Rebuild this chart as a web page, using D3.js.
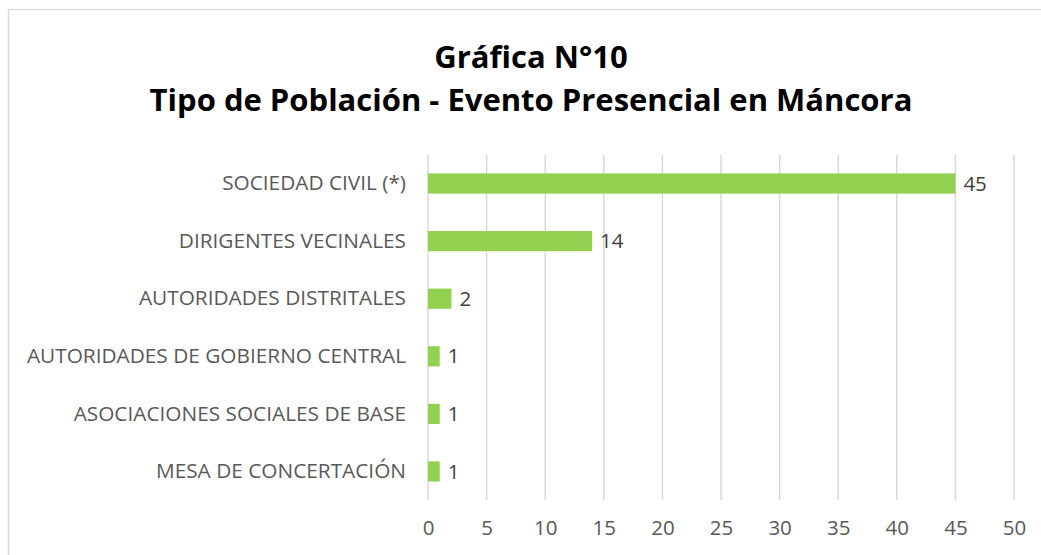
<!DOCTYPE html>
<html>
<head>
<meta charset="utf-8">
<script src="https://cdn.jsdelivr.net/npm/d3@7"></script>
<style>
  body { margin: 0; background: #fff; }
  svg { display: block; }
</style>
</head>
<body>
<div id="chart"></div>
<script>
const categories = [
    "SOCIEDAD CIVIL (*)",
    "DIRIGENTES VECINALES",
    "AUTORIDADES DISTRITALES",
    "AUTORIDADES DE GOBIERNO CENTRAL",
    "ASOCIACIONES SOCIALES DE BASE",
    "MESA DE CONCERTACIÓN"
];
const values = [45, 14, 2, 1, 1, 1];
const xTicks = [0, 5, 10, 15, 20, 25, 30, 35, 40, 45, 50];
const titleLines = ["Gráfica N°10", "Tipo de Población - Evento Presencial en Máncora"];

const W = 1041, H = 555;
const margin = {top: 155, right: 27, bottom: 55, left: 428};
const width = W - margin.left - margin.right;
const height = H - margin.top - margin.bottom;

const svg = d3.select("#chart").append("svg")
    .attr("width", W)
    .attr("height", H);

// marco del gráfico
svg.append("rect")
    .attr("x", 8.5).attr("y", 9.5)
    .attr("width", W + 10).attr("height", H + 10)
    .attr("fill", "none")
    .attr("stroke", "#d9d9d9")
    .attr("stroke-width", 1.5);

svg.selectAll(".title")
    .data(titleLines)
    .join("text")
    .attr("class", "title")
    .attr("x", 531)
    .attr("y", (d, i) => 68 + i * 43)
    .attr("text-anchor", "middle")
    .style("font-family", "'Open Sans', sans-serif")
    .style("font-weight", "bold")
    .style("font-size", "31px")
    .style("fill", "#000")
    .text(d => d);

const g = svg.append("g")
    .attr("transform", `translate(${margin.left},${margin.top})`);

const x = d3.scaleLinear().domain([0, 50]).range([0, width]);
const y = d3.scaleBand().domain(categories).range([0, height]).paddingInner(0.65).paddingOuter(0.32);

// líneas de cuadrícula
g.selectAll(".grid")
    .data(xTicks)
    .join("line")
    .attr("x1", d => x(d)).attr("x2", d => x(d))
    .attr("y1", 0).attr("y2", height)
    .attr("stroke", "#d9d9d9")
    .attr("stroke-width", 1.5);

const xAxis = g.append("g")
    .attr("transform", `translate(0,${height})`)
    .call(d3.axisBottom(x).tickValues(xTicks).tickSize(0).tickPadding(20));
xAxis.select(".domain").remove();
xAxis.selectAll("text")
    .style("font-family", "'Open Sans', sans-serif")
    .style("font-size", "20.5px")
    .style("fill", "#595959");

const yAxis = g.append("g")
    .call(d3.axisLeft(y).tickSize(0).tickPadding(22));
yAxis.select(".domain").remove();
yAxis.selectAll("text")
    .style("font-family", "'Open Sans', sans-serif")
    .style("font-size", "20.8px")
    .style("fill", "#595959");

g.selectAll(".bar")
    .data(values)
    .join("rect")
    .attr("x", x(0))
    .attr("y", (d, i) => y(categories[i]))
    .attr("width", d => x(d) - x(0))
    .attr("height", y.bandwidth())
    .attr("fill", "#92d050");

g.selectAll(".val")
    .data(values)
    .join("text")
    .attr("x", d => x(d) + 8)
    .attr("y", (d, i) => y(categories[i]) + y.bandwidth() / 2)
    .attr("dy", "0.35em")
    .style("font-family", "'Open Sans', sans-serif")
    .style("font-size", "20.5px")
    .style("fill", "#404040")
    .text(d => d);
</script>
</body>
</html>
